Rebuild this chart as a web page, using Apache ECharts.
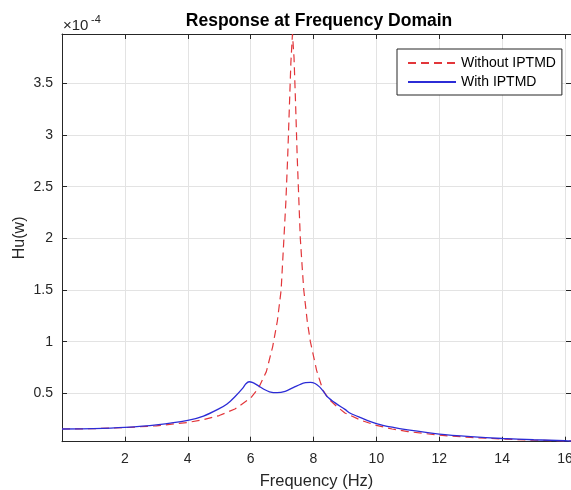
<!DOCTYPE html>
<html>
<head>
<meta charset="utf-8">
<script src="https://cdn.jsdelivr.net/npm/echarts@6/dist/echarts.min.js"></script>
<style>
html,body{margin:0;padding:0;background:#fff;}
#c{width:571px;height:490px;}
</style>
</head>
<body>
<div id="c"></div>
<script>
// Values in units of 1e-4
const freqRed = [0,1,2,3,4,4.5,5,5.5,6,6.25,6.5,6.7,6.85,6.97,7.05,7.12,7.18,7.23,7.28,7.33,7.38,7.43,7.48,7.53,7.58,7.64,7.69,7.8,7.9,8.1,8.3,8.5,8.75,9,9.5,10,10.5,11,12,13,14,15,16,16.19];
const hRed = [0.155,0.158,0.168,0.186,0.218,0.246,0.285,0.348,0.455,0.55,0.71,0.95,1.2,1.5,1.95,2.35,2.8,3.25,3.7,3.977,3.75,3.3,2.8,2.4,2.0,1.72,1.5,1.2,1.0,0.72,0.53,0.44,0.37,0.31,0.24,0.19,0.155,0.13,0.095,0.073,0.058,0.047,0.040,0.039];
const freqBlue = [0,1,2,3,4,4.5,5,5.25,5.5,5.75,5.85,5.95,6.05,6.2,6.42,6.6,6.84,7.1,7.37,7.6,7.75,7.9,8.05,8.2,8.32,8.43,8.7,9,9.17,9.5,10,10.5,11,12,13,14,15,16,16.19];
const hBlue = [0.155,0.159,0.171,0.195,0.238,0.28,0.352,0.397,0.467,0.55,0.592,0.612,0.607,0.582,0.539,0.515,0.506,0.52,0.558,0.59,0.603,0.607,0.595,0.56,0.516,0.47,0.405,0.345,0.307,0.265,0.208,0.172,0.146,0.106,0.081,0.063,0.051,0.041,0.039];
const seriesNames = ['Without IPTMD','With IPTMD'];
const xRange = [0, 16.19];
const yRange = [0.032, 3.977];

const FONT = '"Liberation Sans", Arial, Helvetica, sans-serif';
const AX = '#262626';
const GRID = '#e3e3e3';

const chart = echarts.init(document.getElementById('c'));
const pair = (xs, ys) => xs.map((x, i) => [x, ys[i]]);

const commonX = { type: 'value', min: xRange[0], max: xRange[1], splitNumber: 8 };
const commonY = { type: 'value', min: yRange[0], max: yRange[1], splitNumber: 8 };

chart.setOption({
  backgroundColor: '#fff',
  animation: false,
  grid: { left: 62, top: 34, right: 0, bottom: 48.3, containLabel: false, outerBoundsMode: 'none' },
  xAxis: [
    Object.assign({}, commonX, {
      position: 'bottom',
      name: 'Frequency (Hz)', nameLocation: 'middle', nameGap: 31, nameMoveOverlap: false,
      nameTextStyle: { fontFamily: FONT, fontSize: 16.5, color: AX },
      axisLine: { show: true, onZero: false, lineStyle: { color: AX, width: 1 } },
      axisTick: { show: true, inside: true, length: 5, lineStyle: { color: AX } },
      axisLabel: { fontFamily: FONT, fontSize: 14, color: AX, margin: 10, showMinLabel: false, showMaxLabel: false },
      splitLine: { show: true, lineStyle: { color: GRID, width: 1 } }
    }),
    Object.assign({}, commonX, {
      position: 'top',
      axisLine: { show: true, onZero: false, lineStyle: { color: AX, width: 1 } },
      axisTick: { show: true, inside: true, length: 5, lineStyle: { color: AX } },
      axisLabel: { show: false },
      splitLine: { show: false }
    })
  ],
  yAxis: [
    Object.assign({}, commonY, {
      position: 'left',
      name: 'Hu(w)', nameLocation: 'middle', nameGap: 34, nameRotate: 90, nameMoveOverlap: false,
      nameTextStyle: { fontFamily: FONT, fontSize: 16, color: AX },
      axisLine: { show: true, onZero: false, lineStyle: { color: AX, width: 1 } },
      axisTick: { show: true, inside: true, length: 5, lineStyle: { color: AX } },
      axisLabel: { fontFamily: FONT, fontSize: 14, color: AX, margin: 9, showMinLabel: false, showMaxLabel: false },
      splitLine: { show: true, lineStyle: { color: GRID, width: 1 } }
    }),
    Object.assign({}, commonY, {
      position: 'right',
      axisLine: { show: true, onZero: false, lineStyle: { color: AX, width: 1 } },
      axisTick: { show: true, inside: true, length: 5, lineStyle: { color: AX } },
      axisLabel: { show: false },
      splitLine: { show: false }
    })
  ],
  legend: {
    orient: 'vertical',
    left: 397, top: 49,
    padding: [7, 6, 6, 10],
    itemWidth: 48, itemHeight: 14, itemGap: 5,
    backgroundColor: '#fff',
    borderColor: AX, borderWidth: 1,
    itemStyle: { opacity: 0 },
    textStyle: { fontFamily: FONT, fontSize: 14, color: '#000' },
    data: seriesNames
  },
  graphic: [
    { type: 'text', x: 319, y: 21, style: { text: 'Response at Frequency Domain', font: 'bold 17.5px ' + FONT, fill: '#000', textAlign: 'center', textVerticalAlign: 'middle' } },
    { type: 'text', x: 63, y: 26, style: { text: '×10', font: '15px ' + FONT, fill: AX, textAlign: 'left', textVerticalAlign: 'middle' } },
    { type: 'text', x: 91, y: 20, style: { text: '-4', font: '11px ' + FONT, fill: AX, textAlign: 'left', textVerticalAlign: 'middle' } }
  ],
  series: [
    {
      name: seriesNames[0], type: 'line', xAxisIndex: 0, yAxisIndex: 0,
      data: pair(freqRed, hRed), showSymbol: false, symbol: 'none', clip: true,
      lineStyle: { color: '#e2363a', width: 1.2, type: [8, 5] },
      itemStyle: { color: '#e2363a' }, z: 3
    },
    {
      name: seriesNames[1], type: 'line', xAxisIndex: 0, yAxisIndex: 0,
      data: pair(freqBlue, hBlue), showSymbol: false, symbol: 'none', clip: true, smooth: 0.3,
      lineStyle: { color: '#2c2cd6', width: 1.3 },
      itemStyle: { color: '#2c2cd6' }, z: 4
    }
  ]
});
</script>
</body>
</html>
